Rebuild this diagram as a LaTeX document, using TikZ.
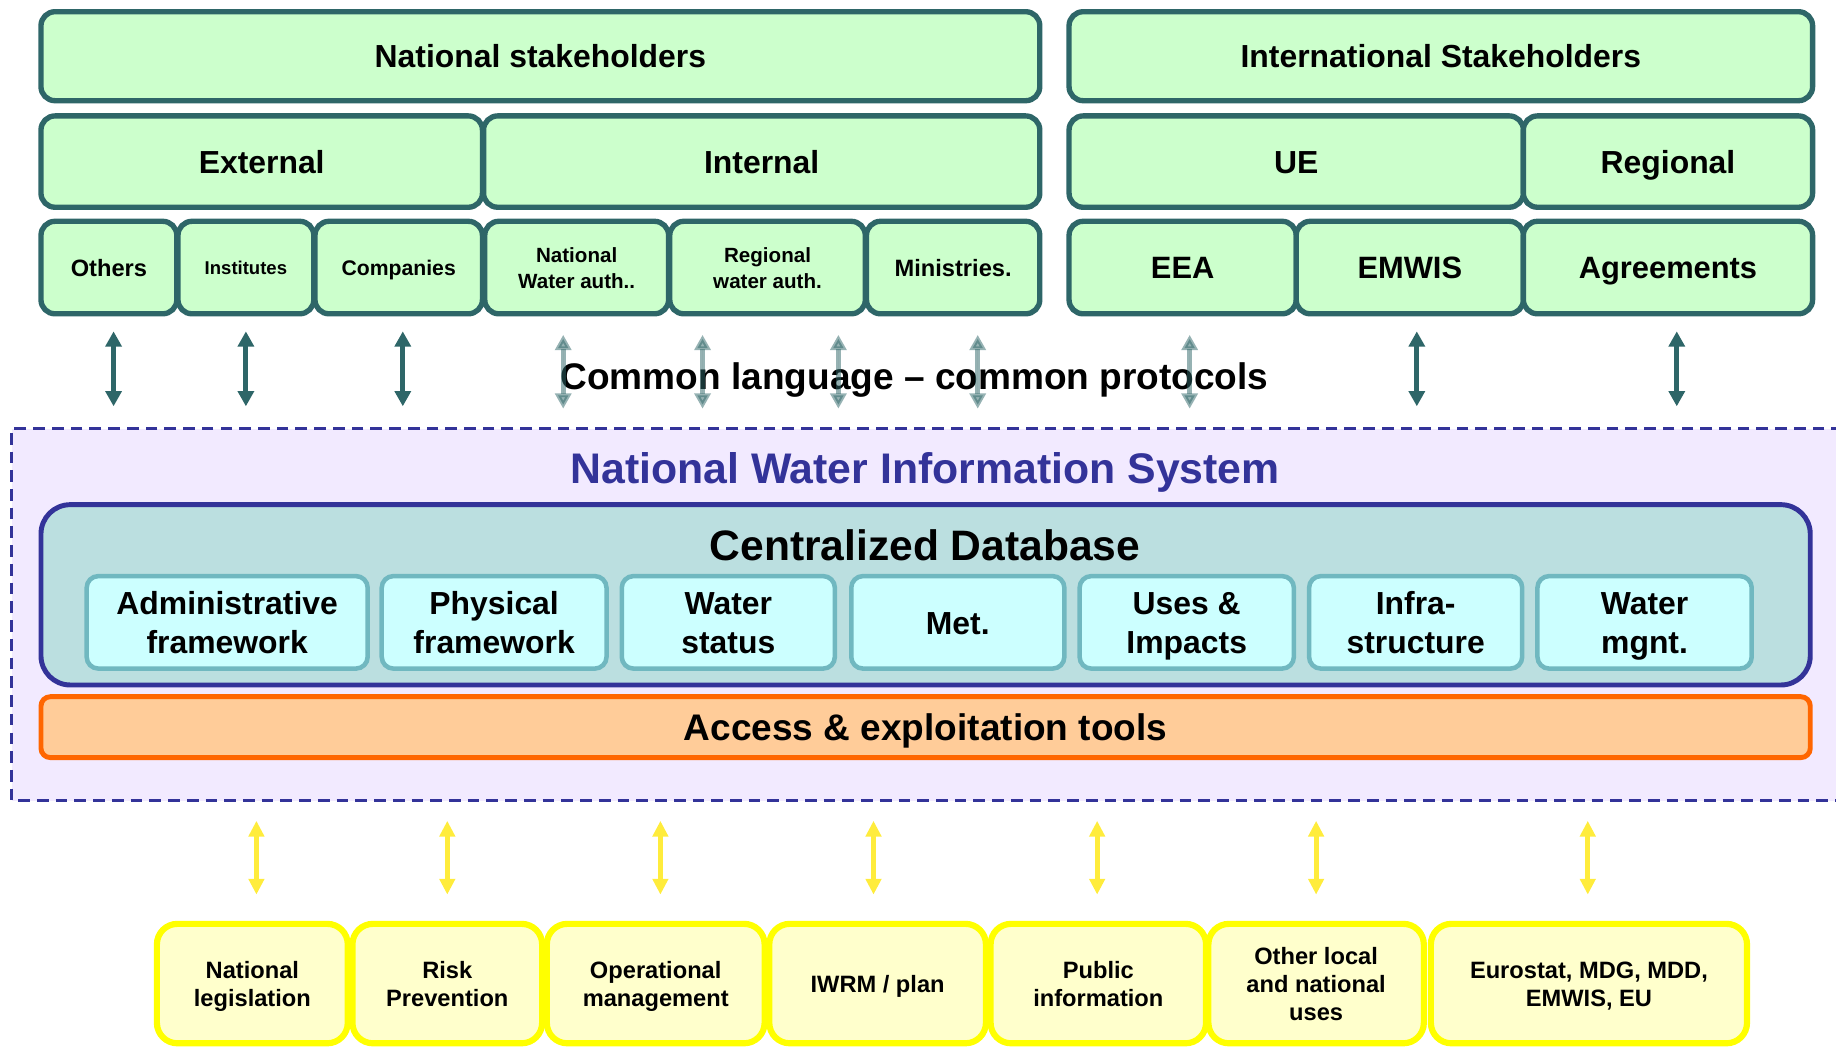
\documentclass[tikz,border=0pt]{standalone}
\usepackage{fontspec}
\setmainfont{Liberation Sans}
\usetikzlibrary{arrows.meta}

\definecolor{stakeline}{RGB}{46,102,104}
\definecolor{stakefill}{RGB}{204,255,204}
\definecolor{nwisfill}{RGB}{242,234,255}
\definecolor{navy}{RGB}{51,51,153}
\definecolor{dbfill}{RGB}{187,223,224}
\definecolor{cellfill}{RGB}{204,255,255}
\definecolor{cellline}{RGB}{112,184,192}
\definecolor{toolfill}{RGB}{255,204,153}
\definecolor{toolline}{RGB}{255,102,0}
\definecolor{usefill}{RGB}{255,255,204}
\definecolor{useline}{RGB}{255,255,0}
\definecolor{yarrow}{RGB}{255,236,60}

\newcommand\capstrut{\rule[-0.22em]{0pt}{1.18em}}
% box from corner to corner, text centred
\newcommand\boxfit[7]{%
  \pgfmathsetmacro\bw{(#5-#3)*0.02}\pgfmathsetmacro\bh{(#6-#4)*0.02}%
  \node[#2, minimum width=\bw cm, minimum height=\bh cm] (#1)
    at ({(#3+#5)/2},{(#4+#6)/2}) {\capstrut#7\capstrut};}
\newcommand\fsz[2]{\fontsize{#1}{#2}\selectfont\bfseries}

\begin{document}
\begin{tikzpicture}[x=0.02cm, y=-0.02cm,
  mid/.style={execute at begin node=\capstrut, execute at end node=\capstrut},
  stake/.style={draw=stakeline, fill=stakefill, line width=2.6pt,
    rounded corners=0.24cm, inner sep=0pt, align=center},
  dbbox/.style={draw=navy, fill=dbfill, line width=2.4pt,
    rounded corners=0.5cm, inner sep=0pt},
  cell/.style={draw=cellline, fill=cellfill, line width=2.2pt,
    rounded corners=0.2cm, inner sep=0pt, align=center, font=\fsz{15.5}{18}},
  toolbox/.style={draw=toolline, fill=toolfill, line width=2.4pt,
    rounded corners=0.16cm, inner sep=0pt, font=\fsz{18}{20}},
  usebox/.style={draw=useline, fill=usefill, line width=3pt,
    rounded corners=0.35cm, inner sep=0pt, align=center, font=\fsz{11.5}{13.6}},
  link/.style={draw=stakeline, fill=stakeline, line width=2.4pt,
    {Triangle[length=0.26cm,width=0.27cm]}-{Triangle[length=0.26cm,width=0.27cm]}},
  ylink/.style={draw=yarrow, fill=yarrow, line width=2.4pt,
    {Triangle[length=0.27cm,width=0.26cm]}-{Triangle[length=0.27cm,width=0.26cm]}}]
\useasboundingbox (0,0) rectangle (1568,895);
\clip (0,0) rectangle (1568,895);

% stakeholders
\boxfit{natsh}{stake,font=\fsz{15.5}{18}}{35}{10}{888}{86}{National stakeholders}
\boxfit{intsh}{stake,font=\fsz{15.5}{18}}{913}{10}{1548}{86}{International Stakeholders}
\boxfit{ext}{stake,font=\fsz{15.5}{18}}{35}{99}{412}{177}{External}
\boxfit{int}{stake,font=\fsz{15.5}{18}}{413}{99}{888}{177}{Internal}
\boxfit{ue}{stake,font=\fsz{15.5}{18}}{913}{99}{1301}{177}{UE}
\boxfit{reg}{stake,font=\fsz{15.5}{18}}{1301}{99}{1548}{177}{Regional}

\boxfit{others}{stake,font=\fsz{11.5}{13}}{35}{189}{151}{268}{Others}
\boxfit{inst}{stake,font=\fsz{9}{11}}{152}{189}{268}{268}{Institutes}
\boxfit{comp}{stake,font=\fsz{10.3}{12}}{269}{189}{412}{268}{Companies}
\boxfit{natwa}{stake,font=\fsz{10}{12.5}}{414}{189}{571}{268}{National\\Water auth..}
\boxfit{regwa}{stake,font=\fsz{10}{12.5}}{572}{189}{739}{268}{Regional\\water auth.}
\boxfit{mini}{stake,font=\fsz{11.5}{13}}{740}{189}{888}{268}{Ministries.}
\boxfit{eea}{stake,font=\fsz{15}{18}}{913}{189}{1107}{268}{EEA}
\boxfit{emwis}{stake,font=\fsz{15}{18}}{1107}{189}{1301}{268}{EMWIS}
\boxfit{agree}{stake,font=\fsz{15}{18}}{1301}{189}{1548}{268}{Agreements}

\foreach \x in {97,210,344,1210,1432} {
  \coordinate (s\x) at (\x,283);
  \coordinate (d\x) at (\x,347);
  \draw[link] (s\x) -- (d\x);
}
\node[mid, font=\fsz{18}{20}] (common) at (781,321) {Common language – common protocols};
\foreach \x in {481,600,716,835,1016} {
  \coordinate (s\x) at (\x,286);
  \coordinate (d\x) at (\x,349);
  \draw[link, opacity=0.5] (s\x) -- (d\x);
}

% information system
\fill[nwisfill] (10,366) rectangle (1590,684);
\draw[navy, line width=1.5pt, dash pattern=on 0.2cm off 0.12cm]
  (1590,366) -- (10,366) -- (10,684) -- (1590,684);
\node[mid, text=navy, font=\fsz{20.8}{24}] (nwis) at (790,399) {National Water Information System};

\boxfit{db}{dbbox}{35}{431}{1546}{585}{}
\node[mid, font=\fsz{20.7}{24}] (dbtitle) at (790,465) {Centralized Database};
\foreach \a/\b/\t [count=\i] in {74/314/{Administrative\\framework},
    326/518/{Physical\\framework}, 531/713/{Water\\status}, 727/909/{Met.},
    922/1105/{Uses \&\\Impacts}, 1118/1300/{Infra-\\structure}, 1313/1496/{Water\\mgnt.}}
  {\boxfit{cell\i}{cell}{\a}{492}{\b}{571}{\t}}

\boxfit{tools}{toolbox}{35}{595}{1546}{647}{Access \& exploitation tools}

% uses
\foreach \x in {219,382,564,746,937,1124,1356} {
  \coordinate (u\x) at (\x,701);
  \coordinate (v\x) at (\x,764);
  \draw[ylink] (u\x) -- (v\x);
}
\foreach \a/\b/\t [count=\i] in {134/297/{National\\legislation},
    301/463/{Risk\\Prevention}, 467/653/{Operational\\management},
    657/842/{IWRM / plan}, 846/1030/{Public\\information},
    1032/1216/{Other local\\and national\\uses}, 1222/1492/{Eurostat, MDG, MDD,\\EMWIS, EU}}
  {\boxfit{use\i}{usebox}{\a}{789}{\b}{891}{\t}}
\end{tikzpicture}
\end{document}
